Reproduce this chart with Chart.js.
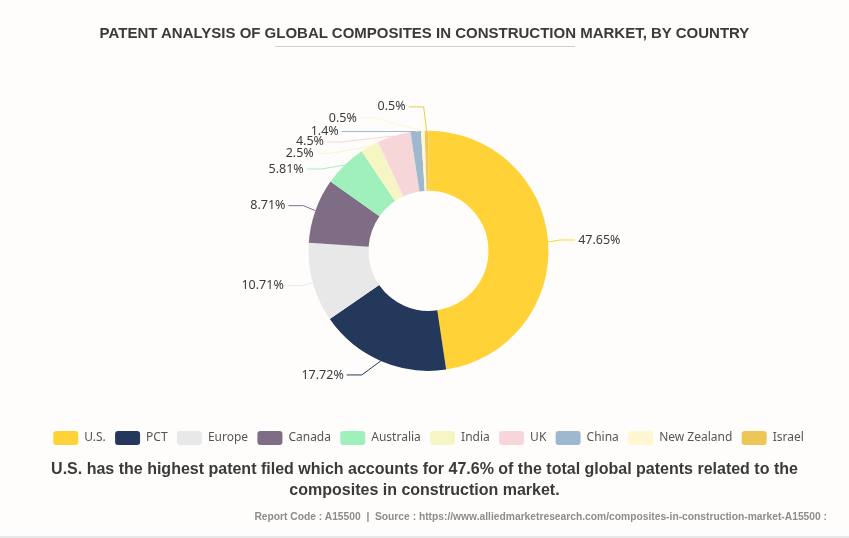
<!DOCTYPE html>
<html>
<head>
<meta charset="utf-8">
<title>Patent analysis</title>
<script src="https://cdn.jsdelivr.net/npm/chart.js@4"></script>
<style>
    html, body { margin: 0; padding: 0; background: #fefdfc; }
    .wrap { position: relative; width: 849px; height: 538px; overflow: hidden; }
    #patentChart { position: absolute; left: 0; top: 0; }
    .title { position: absolute; left: 0; width: 849px; top: 24px; text-align: center; font: bold 15px "Liberation Sans", Arial, sans-serif; color: #3a3a3a; line-height: 18px; white-space: nowrap; }
    .rule { position: absolute; left: 275px; width: 300px; top: 46px; height: 1px; background: #ccc; }
    .note { position: absolute; left: 0; width: 849px; top: 458px; text-align: center; font: bold 16px/21px "Liberation Sans", Arial, sans-serif; color: #3a3a3a; }
    .source { position: absolute; right: 22px; top: 510px; font: bold 10.27px/13px "Liberation Sans", Arial, sans-serif; color: #8c8c8c; white-space: nowrap; }
    .edge { position: absolute; left: 0; width: 849px; top: 536px; height: 2px; background: #e8e8e8; }
</style>
</head>
<body>
<div class="wrap">
    <canvas id="patentChart" width="849" height="538"></canvas>
    <div class="title">PATENT ANALYSIS OF GLOBAL COMPOSITES IN CONSTRUCTION MARKET, BY COUNTRY</div>
    <div class="rule"></div>
    <div class="note">U.S. has the highest patent filed which accounts for 47.6% of the total global patents related to the<br>composites in construction market.</div>
    <div class="source">Report Code : A15500 &nbsp;|&nbsp; Source : https://www.alliedmarketresearch.com/composites-in-construction-market-A15500 :</div>
    <div class="edge"></div>
</div>
<script>
const countries = ['U.S.', 'PCT', 'Europe', 'Canada', 'Australia', 'India', 'UK', 'China', 'New Zealand', 'Israel'];
const shares = [47.65, 17.72, 10.71, 8.71, 5.81, 2.5, 4.5, 1.4, 0.5, 0.5];
const colors = ['#FFD338', '#24385B', '#E8E8E8', '#7F6D85', '#A0F0BC', '#F6F6C4', '#F7D6DA', '#9DB8CF', '#FFF6D2', '#EEC658'];

// elbow of each leader line, relative to where it leaves the slice
const elbowShift = [[12, -2], [-19, 14], [-11, 3], [-12, -5], [-23, 4], [-38, 7], [-52, 6], [-59, 0], [-48, -13], [-3, -24]];
const labelFont = '12.5px "Noto Sans", "Open Sans", sans-serif';

const calloutPlugin = {
    id: 'callouts',
    afterDatasetsDraw(chart) {
        const c = chart.ctx;
        chart.getDatasetMeta(0).data.forEach((arc, i) => {
            const p = arc.getProps(['x', 'y', 'startAngle', 'endAngle', 'outerRadius'], true);
            const mid = (p.startAngle + p.endAngle) / 2;
            const x0 = p.x + Math.cos(mid) * p.outerRadius;
            const y0 = p.y + Math.sin(mid) * p.outerRadius;
            const x1 = x0 + elbowShift[i][0];
            const y1 = y0 + elbowShift[i][1];
            const dir = elbowShift[i][0] > 0 ? 1 : -1;
            const x2 = x1 + dir * 15;

            c.save();
            c.strokeStyle = colors[i];
            c.lineWidth = 1;
            c.beginPath();
            c.moveTo(x0, y0);
            c.lineTo(x1, y1);
            c.lineTo(x2, y1);
            c.stroke();

            c.font = labelFont;
            c.fillStyle = '#3a3a3a';
            c.textBaseline = 'middle';
            c.textAlign = dir > 0 ? 'left' : 'right';
            c.fillText(shares[i] + '%', x2 + dir * 3, y1);
            c.restore();
        });
    }
};

new Chart(document.getElementById('patentChart').getContext('2d'), {
    type: 'doughnut',
    data: {
        labels: countries,
        datasets: [{
            data: shares,
            backgroundColor: colors,
            borderWidth: 0,
            radius: 120,
            cutout: '50%'
        }]
    },
    options: {
        responsive: false,
        animation: false,
        layout: { padding: { top: 80, left: 8, right: 0, bottom: 83 } },
        plugins: {
            tooltip: { enabled: false },
            legend: {
                position: 'bottom',
                labels: {
                    boxWidth: 25,
                    boxHeight: 14,
                    padding: 9.3,
                    color: '#555',
                    useBorderRadius: true,
                    borderRadius: 3,
                    font: { family: '"Noto Sans", "Open Sans", sans-serif', size: 12 }
                }
            }
        }
    },
    plugins: [calloutPlugin]
});
</script>
</body>
</html>
